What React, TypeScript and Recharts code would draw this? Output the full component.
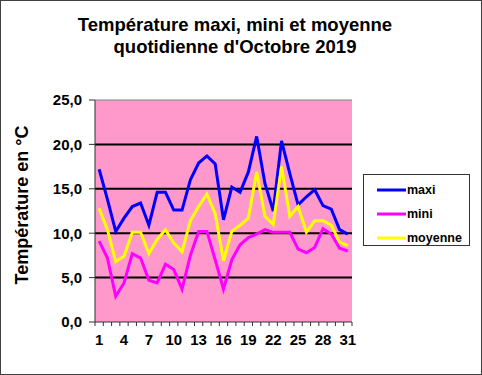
import React from 'react'
import {
  LineChart, Line, XAxis, YAxis, CartesianGrid, ReferenceLine, Legend,
} from 'recharts'

const days = [
  '1', '2', '3', '4', '5', '6', '7', '8', '9', '10', '11', '12', '13', '14', '15', '16',
  '17', '18', '19', '20', '21', '22', '23', '24', '25', '26', '27', '28', '29', '30', '31',
]
const maxi = [
  17.2, 13.8, 10.2, 11.7, 13.0, 13.4, 10.9, 14.6, 14.6, 12.6, 12.6, 16.0, 17.9, 18.7, 17.8, 11.5,
  15.2, 14.6, 16.9, 20.9, 15.6, 12.5, 20.4, 16.7, 13.2, 14.1, 14.9, 13.1, 12.7, 10.4, 9.9,
]
const mini = [
  9.1, 7.2, 2.9, 4.4, 7.7, 7.2, 4.7, 4.4, 6.5, 5.9, 3.7, 7.5, 10.2, 10.2, 7.0, 3.7,
  7.0, 8.7, 9.5, 9.9, 10.4, 10.1, 10.1, 10.1, 8.2, 7.8, 8.4, 10.5, 9.9, 8.3, 8.0,
]
const moyenne = [
  12.8, 10.4, 6.8, 7.4, 10.1, 10.1, 7.7, 9.3, 10.4, 8.9, 7.9, 11.4, 13.0, 14.4, 12.2, 6.9,
  10.2, 10.9, 11.7, 16.9, 11.9, 11.0, 17.5, 11.9, 13.0, 10.1, 11.4, 11.4, 10.9, 9.0, 8.6,
]
const yTicks = [0, 5, 10, 15, 20, 25]
const gridValues = [5, 10, 15, 20]

const data = days.map((d, i) => ({ day: d, maxi: maxi[i], mini: mini[i], moyenne: moyenne[i] }))

const W = 482
const H = 375
const margin = { top: 100, right: 130, bottom: 23, left: 0 }
const yAxisWidth = 95
const plotWidth = W - margin.left - margin.right - yAxisWidth
const half = plotWidth / days.length / 2
const font = '"Liberation Sans", Arial, sans-serif'

const XTick = ({ x, y, payload, index }: any) => (
  <g>
    <line x1={x - half} x2={x - half} y1={y} y2={y + 4} stroke="#333" />
    {index === days.length - 1 && (
      <line x1={x + half} x2={x + half} y1={y} y2={y + 4} stroke="#333" />
    )}
    {index % 3 === 0 && (
      <text x={x} y={y + 23} textAnchor="middle" fontSize={15} fontWeight="bold" fill="#000" fontFamily={font}>
        {payload.value}
      </text>
    )}
  </g>
)

const LegendBox = ({ payload }: any) => (
  <div style={{
    width: 107, height: 72, boxSizing: 'border-box', border: '1px solid #333',
    background: '#fff', fontFamily: font, fontSize: 12.5, fontWeight: 'bold', paddingTop: 3,
  }}>
    {(payload || []).map((p: any) => (
      <div key={p.value} style={{ display: 'flex', alignItems: 'center', height: 24, paddingLeft: 13 }}>
        <svg width={29} height={6}><line x1={0} x2={29} y1={3} y2={3} stroke={p.color} strokeWidth={3} /></svg>
        <span style={{ marginLeft: 1 }}>{p.value}</span>
      </div>
    ))}
  </div>
)

export default function App() {
  return (
    <div style={{ position: 'absolute', left: 0, top: 0, width: W, height: H, background: '#fff' }}>
      <div style={{
        position: 'absolute', left: 0, top: 13.6, width: 470, textAlign: 'center',
        fontFamily: font, fontWeight: 'bold', fontSize: 18.5, lineHeight: '22px', color: '#000',
      }}>
        Température maxi, mini et moyenne<br />quotidienne d'Octobre 2019
      </div>
      <div style={{
        position: 'absolute', left: 21.75 - 100, top: 205 - 11, width: 200, height: 22,
        transform: 'rotate(-90deg)', textAlign: 'center', fontFamily: font, fontWeight: 'bold',
        fontSize: 18, lineHeight: '22px', color: '#000', whiteSpace: 'nowrap',
      }}>
        Température en °C
      </div>
      <LineChart width={W} height={H} data={data} margin={margin}>
        <CartesianGrid fill="#FF99CC" fillOpacity={1} horizontal={false} vertical={false} />
        {gridValues.map((v) => (
          <ReferenceLine key={v} y={v} stroke="#000" strokeWidth={2} />
        ))}
        <ReferenceLine y={25} stroke="#808080" strokeWidth={1} />
        <XAxis
          dataKey="day" scale="point" interval={0} padding={{ left: half, right: half }}
          height={30} tickLine={false} tickSize={0} tickMargin={0}
          axisLine={{ stroke: '#333' }} tick={<XTick />}
        />
        <YAxis
          domain={[0, 25]} ticks={yTicks} width={yAxisWidth} tickSize={6} tickMargin={7}
          tickFormatter={(v) => v.toFixed(1).replace('.', ',')}
          axisLine={{ stroke: '#333' }} tickLine={{ stroke: '#333' }}
          tick={{ fontSize: 15, fontWeight: 'bold', fill: '#000', fontFamily: font }}
        />
        <YAxis
          yAxisId="frame" orientation="right" domain={[0, 25]} width={0}
          tick={false} tickLine={false} axisLine={{ stroke: '#808080' }}
        />
        <Legend
          layout="vertical" align="center" verticalAlign="middle" content={<LegendBox />}
          wrapperStyle={{ left: 363, top: 174, width: 107, height: 72 }}
        />
        <Line type="linear" dataKey="maxi" name="maxi" stroke="#0000FF" strokeWidth={3} dot={false} isAnimationActive={false} />
        <Line type="linear" dataKey="mini" name="mini" stroke="#FF00FF" strokeWidth={3} dot={false} isAnimationActive={false} />
        <Line type="linear" dataKey="moyenne" name="moyenne" stroke="#FFFF00" strokeWidth={3} dot={false} isAnimationActive={false} />
      </LineChart>
      <div style={{
        position: 'absolute', left: 0, top: 0, width: W, height: H, boxSizing: 'border-box',
        border: '1px solid #404040', pointerEvents: 'none',
      }} />
    </div>
  )
}
